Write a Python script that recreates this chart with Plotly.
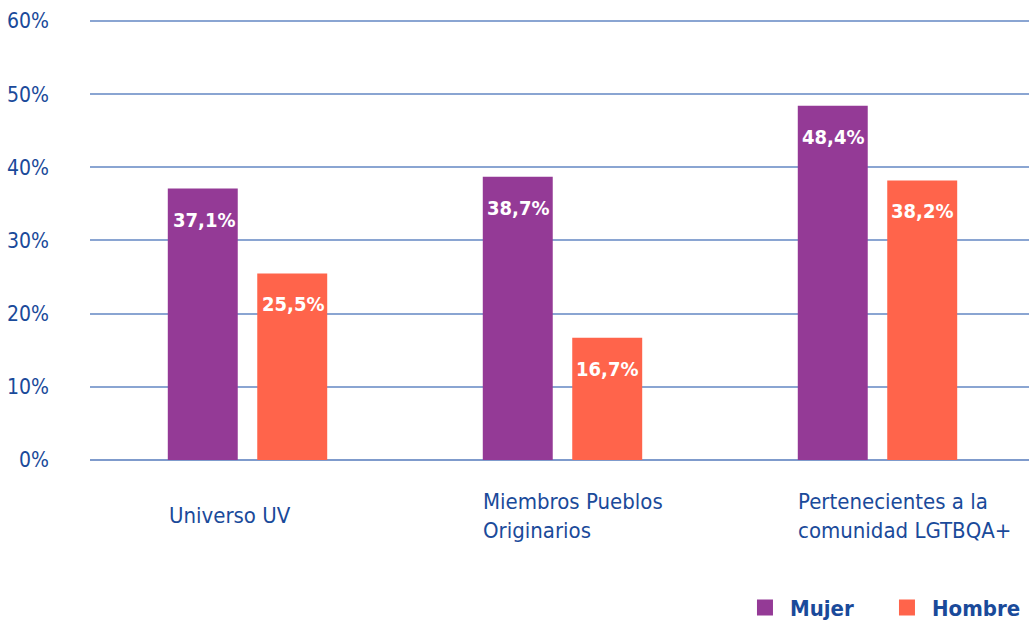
import plotly.graph_objects as go

categories = ["Universo UV", "Miembros Pueblos<br>Originarios", "Pertenecientes a la<br>comunidad LGTBQA+"]
mujer = [37.1, 38.7, 48.4]
hombre = [25.5, 16.7, 38.2]
tick_vals = [0, 10, 20, 30, 40, 50, 60]
tick_text = ["0%", "10%", "20%", "30%", "40%", "50%", "60%"]

PURPLE = "#943a96"
ORANGE = "#ff644b"
BLUE = "#1a4a9a"
FONT = "DejaVu Sans Condensed, Roboto, sans-serif"

def fmt(v):
    return f"{v:.1f}".replace(".", ",") + "%"

x_idx = list(range(len(categories)))

fig = go.Figure()
fig.add_trace(go.Bar(x=x_idx, y=mujer, name="Mujer", marker=dict(color=PURPLE, line=dict(width=0)), showlegend=False))
fig.add_trace(go.Bar(x=x_idx, y=hombre, name="Hombre", marker=dict(color=ORANGE, line=dict(width=0)), showlegend=False))
# legend swatches
fig.add_trace(go.Scatter(x=[None], y=[None], mode="markers", name="Mujer",
                         marker=dict(symbol="square", size=20, color=PURPLE)))
fig.add_trace(go.Scatter(x=[None], y=[None], mode="markers", name="Hombre",
                         marker=dict(symbol="square", size=20, color=ORANGE)))

annotations = []
for i, (m, h) in enumerate(zip(mujer, hombre)):
    annotations.append(dict(x=i, y=m, xref="x", yref="y", text=fmt(m), showarrow=False,
                            xshift=-44, yshift=-31, font=dict(family=FONT, size=20, color="white", weight="bold")))
    annotations.append(dict(x=i, y=h, xref="x", yref="y", text=fmt(h), showarrow=False,
                            xshift=45, yshift=-31, font=dict(family=FONT, size=20, color="white", weight="bold")))
    two_line = "<br>" in categories[i]
    annotations.append(dict(x=i, y=-0.062 if two_line else -0.093, xref="x", yref="paper", text=categories[i],
                            showarrow=False, xanchor="left", yanchor="top", align="left", xshift=-81,
                            font=dict(family=FONT, size=22, color=BLUE)))

fig.update_layout(
    width=1029, height=621,
    margin=dict(l=90, r=0, t=19, b=161, autoexpand=False),
    plot_bgcolor="white", paper_bgcolor="white",
    barmode="group", bargap=0.432, bargroupgap=0.218,
    xaxis=dict(range=[-0.5, 2.481], showticklabels=False, showgrid=False, zeroline=False,
               tickvals=x_idx, automargin=False),
    yaxis=dict(range=[0, 60.27], tickvals=tick_vals, ticktext=tick_text,
               showgrid=True, gridcolor="#8aa5d2", gridwidth=1.5,
               zeroline=True, zerolinecolor="#7f9bcc", zerolinewidth=1.5,
               ticklabelstandoff=40, automargin=False,
               tickfont=dict(family=FONT, size=21, color=BLUE)),
    showlegend=True,
    legend=dict(orientation="h", x=0.6922, xanchor="left", y=-0.335, yanchor="middle",
                font=dict(family=FONT, size=22, color=BLUE, weight="bold"),
                itemwidth=40, entrywidth=87, bgcolor="rgba(0,0,0,0)"),
    annotations=annotations,
)

fig.write_html("out.html", config={"displayModeBar": False},
               post_script="document.body.style.margin='0';")
